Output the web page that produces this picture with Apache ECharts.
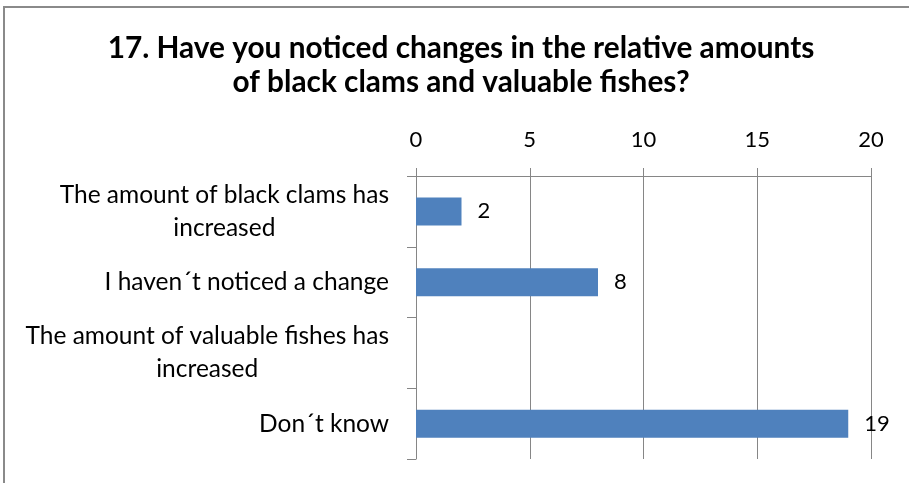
<!DOCTYPE html>
<html>
<head>
<meta charset="utf-8">
<script src="https://cdn.jsdelivr.net/npm/echarts@6/dist/echarts.min.js"></script>
<style>
html,body{margin:0;padding:0;background:#fff;}
#chart{width:909px;height:483px;}
</style>
</head>
<body>
<div id="chart"></div>
<script>
const titleLines = ["17. Have you noticed changes in the relative amounts", "of black clams and valuable fishes?"];
const categories = [
  "The amount of black clams has\nincreased",
  "I haven´t noticed a change",
  "The amount of valuable fishes has\nincreased",
  "Don´t know"
];
const values = [2, 8, 0, 19];
const axisMin = 0, axisMax = 20, axisInterval = 5;

const FONT = "Lato";
const chart = echarts.init(document.getElementById('chart'), null, {renderer: 'canvas'});
chart.setOption({
  animation: false,
  backgroundColor: '#ffffff',
  graphic: [{
    type: 'rect', z: -1,
    shape: {x: 4, y: 7, width: 1000, height: 1000},
    style: {fill: 'none', stroke: '#8a8a8a', lineWidth: 2}
  }, {
    type: 'text', x: 461, y: 48,
    style: {text: titleLines[0], align: 'center', verticalAlign: 'middle',
      font: 'bold 29.8px Lato', fill: '#000'}
  }, {
    type: 'text', x: 461, y: 82,
    style: {text: titleLines[1], align: 'center', verticalAlign: 'middle',
      font: 'bold 29.8px Lato', fill: '#000'}
  }],
  grid: {left: 416, right: 38, top: 176, bottom: 24, containLabel: false},
  xAxis: {
    type: 'value', position: 'top',
    min: axisMin, max: axisMax, interval: axisInterval,
    axisLine: {show: true, lineStyle: {color: '#868686', width: 1}},
    axisTick: {show: true, length: 8, inside: false, lineStyle: {color: '#868686'}},
    splitLine: {show: true, lineStyle: {color: '#868686', width: 1}},
    axisLabel: {fontFamily: FONT, fontSize: 22, color: '#000', margin: 25}
  },
  yAxis: {
    type: 'category', inverse: true, data: categories,
    axisLine: {show: true, lineStyle: {color: '#868686', width: 1}},
    axisTick: {show: true, length: 9, inside: false, lineStyle: {color: '#868686'}},
    splitLine: {show: false},
    axisLabel: {
      fontFamily: FONT, fontSize: 24.5, lineHeight: 33, color: '#000', margin: 27, align: 'right',
      formatter: v => v.split('\n').map(s => '{c|' + s + '}').join('\n'),
      rich: {c: {align: 'center', fontFamily: FONT, fontSize: 24.5, lineHeight: 33, color: '#000'}}
    }
  },
  series: [{
    type: 'bar', data: values, barWidth: 28,
    itemStyle: {color: '#4F81BD'},
    label: {
      show: true, position: 'right', distance: 16,
      fontFamily: FONT, fontSize: 22, color: '#000',
      formatter: p => (p.value === 0 ? '' : String(p.value))
    }
  }]
});
</script>
</body>
</html>
